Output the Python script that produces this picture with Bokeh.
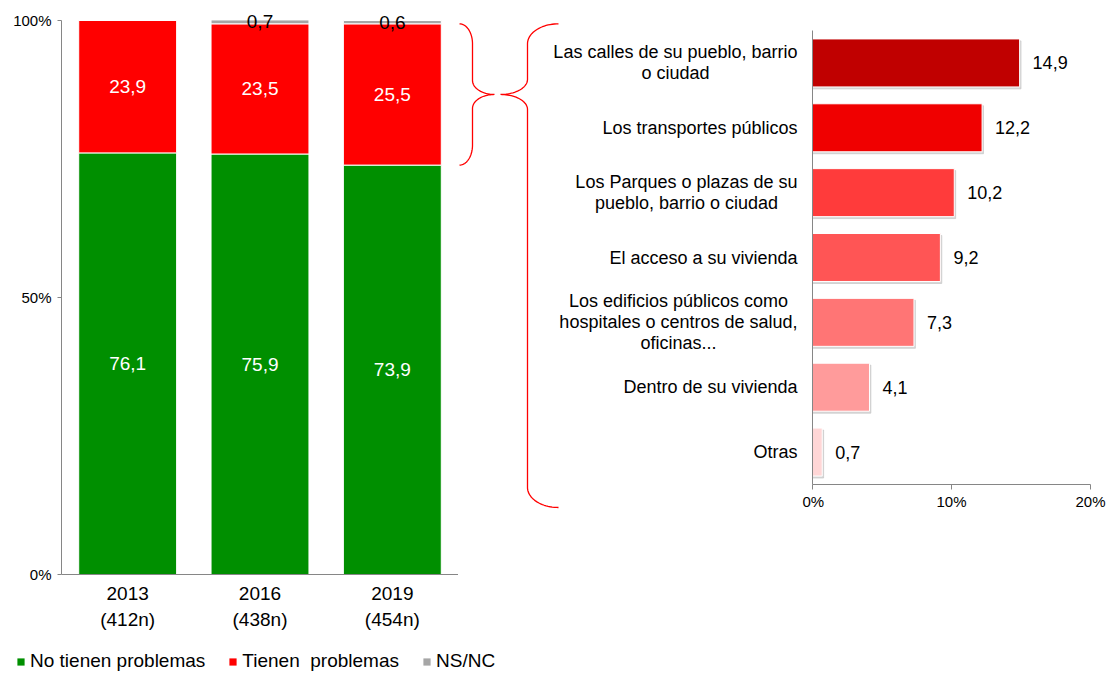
import numpy as np
from bokeh.plotting import figure
from bokeh.models import (ColumnDataSource, LabelSet, Range1d, FactorRange, Legend,
                          LegendItem, FixedTicker, PrintfTickFormatter)
from bokeh.layouts import row, column
from bokeh.core.properties import value
from bokeh.embed import file_html
from bokeh.resources import INLINE

# ---------------- data ----------------
years = ["2013", "2016", "2019"]
sample_sizes = ["(412n)", "(438n)", "(454n)"]
no_tienen = [76.1, 75.9, 73.9]
tienen = [23.9, 23.5, 25.5]
ns_nc = [0.0, 0.7, 0.6]
series_names = ["No tienen problemas", "Tienen  problemas", "NS/NC"]

lugares = [
    "Las calles de su pueblo, barrio\no ciudad",
    "Los transportes públicos",
    "Los Parques o plazas de su\npueblo, barrio o ciudad",
    "El acceso a su vivienda",
    "Los edificios públicos como\nhospitales o centros de salud,\noficinas...",
    "Dentro de su vivienda",
    "Otras",
]
porcentajes = [14.9, 12.2, 10.2, 9.2, 7.3, 4.1, 0.7]

# ---------------- styles ----------------
FNAME = "Liberation Sans"
FONT = value(FNAME)
GREEN, RED, GRAY = "#008F00", "#FF0000", "#A6A6A6"
bar_colors = ["#C00000", "#F00000", "#FF3B3B", "#FF5555", "#FF7575", "#FF9B9B", "#FFD6D6"]
AXIS = "#868686"

def fmt(v):
    return f"{v:.1f}".replace(".", ",")

# ---------------- layout geometry (px) ----------------
H = 640
TOP = 8                 # top border of the left chart
Y100, Y0 = 20, 574      # pixel rows of 100% and 0%
PX = (Y0 - Y100) / 100.0
YMAX = 100 + (Y100 - TOP) / PX
BOT = H - Y0
LEFT_W = 458
AXIS_R = 812            # x of the right chart's vertical axis
R_BORDER_L = 10
MID_X0, MID_X1 = LEFT_W, AXIS_R - R_BORDER_L
R_TOP, R_BOTTOM = 30, 484
R_FRAME_W = 278
R_W = 1109 - MID_X1

# ---------------- left stacked chart ----------------
xf = list(zip(sample_sizes, years))
left = figure(width=LEFT_W, height=H,
              x_range=FactorRange(*xf, group_padding=0, factor_padding=0, range_padding=0),
              y_range=Range1d(0, YMAX), output_backend="svg", toolbar_location=None,
              min_border_left=61, min_border_right=0, min_border_top=TOP, min_border_bottom=BOT)
src = ColumnDataSource(dict(x=xf, no=no_tienen, si=tienen, ns=ns_nc))
left.vbar_stack(["no", "si", "ns"], x="x", width=0.74, color=[GREEN, RED, GRAY],
                line_color="white", line_width=1, source=src)

no_mid = [v / 2 for v in no_tienen]
si_mid = [a + b / 2 for a, b in zip(no_tienen, tienen)]
lab_src = ColumnDataSource(dict(x=xf + xf, y=no_mid + si_mid,
                                t=[fmt(v) for v in no_tienen] + [fmt(v) for v in tienen]))
left.add_layout(LabelSet(x="x", y="y", text="t", source=lab_src, text_color="white",
                         text_font=FONT, text_font_size="19px", text_align="center",
                         text_baseline="middle"))
ns_idx = [i for i, v in enumerate(ns_nc) if v > 0]
ns_src = ColumnDataSource(dict(x=[xf[i] for i in ns_idx],
                               y=[no_tienen[i] + tienen[i] + ns_nc[i] / 2 for i in ns_idx],
                               t=[fmt(ns_nc[i]) for i in ns_idx]))
left.add_layout(LabelSet(x="x", y="y", text="t", source=ns_src, text_color="black",
                         text_font=FONT, text_font_size="19px", text_align="center",
                         text_baseline="middle"))

left.xgrid.visible = False
left.ygrid.visible = False
left.outline_line_color = None
xa = left.xaxis[0]
xa.axis_line_color = AXIS
xa.major_tick_line_color = None
xa.minor_tick_line_color = None
xa.separator_line_color = None
xa.major_label_text_font = FNAME
xa.major_label_text_font_size = "19px"
xa.major_label_text_color = "black"
xa.major_label_standoff = 6
xa.group_text_font = FNAME
xa.group_text_font_size = "19px"
xa.group_text_font_style = "normal"
xa.group_text_color = "black"
ya = left.yaxis[0]
ya.bounds = (0, 100)
ya.ticker = FixedTicker(ticks=[0, 50, 100])
ya.formatter = PrintfTickFormatter(format="%d%%")
ya.axis_line_color = AXIS
ya.major_tick_line_color = AXIS
ya.major_tick_out = 4
ya.major_tick_in = 0
ya.minor_tick_line_color = None
ya.major_label_text_font = FNAME
ya.major_label_text_font_size = "15px"
ya.major_label_text_color = "black"
ya.major_label_standoff = 6

# ---------------- middle strip: brackets + category labels ----------------
n_cat = len(lugares)
unit = (R_BOTTOM - R_TOP) / n_cat          # px per category
cat_lo = -(Y0 - R_BOTTOM) / unit
cat_hi = n_cat + (R_TOP - TOP) / unit

mid = figure(width=MID_X1 - MID_X0, height=H, x_range=Range1d(MID_X0, MID_X1),
             y_range=left.y_range, output_backend="svg", toolbar_location=None,
             x_axis_location=None, y_axis_location=None, min_border_left=0,
             min_border_right=0, min_border_top=TOP, min_border_bottom=BOT)
mid.extra_y_ranges = {"cat": Range1d(cat_lo, cat_hi)}
mid.grid.visible = False
mid.outline_line_color = None

def brace(x_tip, x_vert, x_mid, y_top, y_mid, y_bot, a_px, b_px, n=24):
    a, b = a_px / PX, b_px / PX
    rx1 = x_vert - x_tip
    rx2 = x_mid - x_vert
    t = np.linspace(0, np.pi / 2, n)
    xs = list(x_tip + rx1 * np.sin(t)); ys = list(y_top - a + a * np.cos(t))
    xs += list(x_mid - rx2 * np.cos(t)); ys += list(y_mid + b - b * np.sin(t))
    tr = t[::-1]
    xs += list(x_mid - rx2 * np.cos(tr)); ys += list(y_mid - b + b * np.sin(tr))
    xs += list(x_tip + rx1 * np.sin(tr)); ys += list(y_bot + a - a * np.cos(tr))
    return xs, ys

seg_top = no_tienen[2] + tienen[2]
seg_bot = no_tienen[2]
seg_mid = (seg_top + seg_bot) / 2
BRACE2_BOTTOM = (Y0 - 507) / PX
bx1, by1 = brace(459, 472, 494, seg_top, seg_mid, seg_bot, 20, 14)
bx2, by2 = brace(558, 527, 500, seg_top, seg_mid, BRACE2_BOTTOM, 20, 15)
mid.line(bx1, by1, line_color=RED, line_width=1.3)
mid.line(bx2, by2, line_color=RED, line_width=1.3)

# category labels: each line centred within its block, block right-aligned 15px from axis
W = {' ': 278, ',': 278, '.': 278, 'a': 556, 'b': 556, 'c': 500, 'd': 556, 'e': 556, 'f': 278,
     'g': 556, 'h': 556, 'i': 222, 'j': 222, 'k': 500, 'l': 222, 'm': 833, 'n': 556, 'o': 556,
     'p': 556, 'q': 556, 'r': 333, 's': 500, 't': 278, 'u': 556, 'v': 500, 'w': 722, 'x': 500,
     'y': 500, 'z': 500, 'ú': 556, 'L': 556, 'P': 667, 'E': 667, 'D': 722, 'O': 778}
CAT_FS = 18
LINE_H = 21
def line_w(s):
    return sum(W.get(c, 556) for c in s) / 1000 * CAT_FS

ypos = [n_cat - i - 0.5 for i in range(n_cat)]
cx, cy, ct, cyo = [], [], [], []
for lab, y in zip(lugares, ypos):
    lines = lab.split("\n")
    bw = max(line_w(l) for l in lines)
    k = len(lines)
    for j, l in enumerate(lines):
        cx.append(AXIS_R - 15 - bw / 2); cy.append(y); ct.append(l)
        cyo.append(-((k - 1) / 2 - j) * LINE_H)
csrc = ColumnDataSource(dict(x=cx, y=cy, t=ct, yo=cyo))
mid.text(x="x", y="y", text="t", y_offset="yo", source=csrc, y_range_name="cat",
         text_font=FONT, text_font_size=f"{CAT_FS}px", text_color="black",
         text_align="center", text_baseline="middle")

# ---------------- right horizontal bar chart ----------------
right = figure(width=R_W, height=H, y_range=Range1d(0, n_cat), x_range=Range1d(0, 20),
               output_backend="svg", toolbar_location=None,
               min_border_left=R_BORDER_L, min_border_right=R_W - R_BORDER_L - R_FRAME_W,
               min_border_top=R_TOP, min_border_bottom=H - R_BOTTOM)
rsrc = ColumnDataSource(dict(y=ypos, pct=porcentajes, color=bar_colors,
                             t=[fmt(v) for v in porcentajes],
                             ys=[y - 0.03 for y in ypos],
                             ps=[p + 0.1 for p in porcentajes]))
right.hbar(y="ys", right="ps", left=0, height=0.74, color="#BFBFBF", alpha=0.6, source=rsrc)
right.hbar(y="y", right="pct", left=0, height=0.74, color="color", line_color="white",
           line_width=1, source=rsrc)
right.add_layout(LabelSet(x="pct", y="y", text="t", source=rsrc, x_offset=13,
                          text_font=FONT, text_font_size="18px", text_color="black",
                          text_align="left", text_baseline="middle"))

right.xgrid.visible = False
right.ygrid.visible = False
right.outline_line_color = None
rx = right.xaxis[0]
rx.ticker = FixedTicker(ticks=[0, 10, 20])
rx.formatter = PrintfTickFormatter(format="%d%%")
rx.axis_line_color = AXIS
rx.major_tick_line_color = AXIS
rx.major_tick_out = 5
rx.major_tick_in = 0
rx.minor_tick_line_color = None
rx.major_label_text_font = FNAME
rx.major_label_text_font_size = "15px"
rx.major_label_text_color = "black"
rx.major_label_standoff = 3
ry = right.yaxis[0]
ry.ticker = FixedTicker(ticks=[])
ry.axis_line_color = AXIS
ry.major_tick_out = 0
ry.major_tick_in = 0
ry.major_label_standoff = 0
ry.minor_tick_line_color = None

# ---------------- legend strip ----------------
leg = figure(width=520, height=675 - H, x_range=Range1d(0, 1), y_range=Range1d(0, 1),
             output_backend="svg", toolbar_location=None, x_axis_location=None,
             y_axis_location=None, min_border_left=0, min_border_right=0,
             min_border_top=0, min_border_bottom=0)
leg.grid.visible = False
leg.outline_line_color = None
items = []
for name, col in zip(series_names, [GREEN, RED, GRAY]):
    r = leg.rect(x=[-10], y=[-10], width=1, height=1, fill_color=col, line_color=None)
    items.append(LegendItem(label=name, renderers=[r]))
legend = Legend(items=items, orientation="horizontal", location=(16, 3), glyph_width=9,
                glyph_height=9, label_standoff=5, spacing=23, padding=0, margin=0,
                border_line_color=None, background_fill_alpha=0,
                label_text_font=FNAME, label_text_color="black",
                label_text_font_size="19px", label_height=18)
leg.add_layout(legend)

layout = column(row(column(left), column(mid), column(right)), leg)
open("out.html", "w").write(file_html(layout, INLINE))
